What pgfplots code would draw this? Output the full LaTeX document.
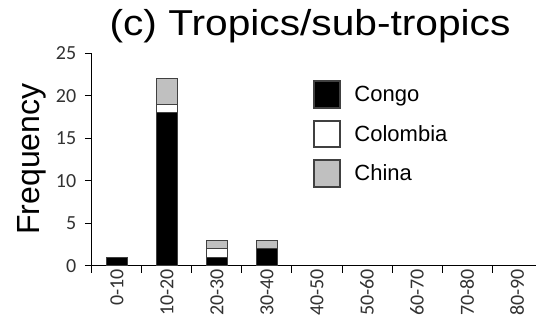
\documentclass[border=0pt]{standalone}
\usepackage{pgfplots}
\pgfplotsset{compat=1.18}
\usepackage{fontspec}
\setmainfont{Liberation Sans}
\newfontfamily\carlito{Carlito}
\usepackage{graphicx}
\definecolor{edgegray}{RGB}{64,64,64}
\definecolor{chinagray}{RGB}{192,192,192}
\definecolor{ticktext}{RGB}{50,50,50}
\begin{document}
\begin{tikzpicture}[x=1pt,y=1pt]
\useasboundingbox (-92,-69.3) rectangle (444,265.7);
\begin{axis}[
  at={(0,0)}, anchor=south west,
  scale only axis, width=444pt, height=212.4pt,
  xmin=0, xmax=8.88, ymin=0, ymax=25,
  axis x line=bottom, axis y line=left,
  axis line style={-, line width=1pt, black},
  ytick={0,5,...,25},
  xtick={0,1,...,8}, xticklabels={},
  extra x ticks={0.5,1.5,2.5,3.5,4.5,5.5,6.5,7.5,8.5},
  extra x tick labels={0-10,10-20,20-30,30-40,40-50,50-60,60-70,70-80,80-90},
  extra x tick style={major tick length=0pt},
  tick align=outside, major tick length=7pt,
  tick style={line width=1pt, black},
  /pgf/number format/assume math mode=true,
  ticklabel style={font=\carlito\fontsize{20}{20}\selectfont, text=ticktext},
  y tick label style={xshift=-5.3pt},
  x tick label style={rotate=90, anchor=east},
  ybar stacked, bar width=21pt,
  legend style={at={(0.497,0.874)}, anchor=north west, draw=none, fill=none,
    font=\fontsize{22}{22}\selectfont, row sep=11pt,
    inner sep=0pt, nodes={inner sep=0pt, anchor=west},
    /tikz/every odd column/.append style={column sep=13pt}},
  legend cell align=left,
  legend image code/.code={\draw[#1, line width=2pt] (0pt,-13.3pt) rectangle (26.6pt,13.3pt);},
]
\addplot[fill=black, draw=edgegray, line width=1.2pt] coordinates {(0.5,1) (1.5,18) (2.5,1) (3.5,2)};
\addplot[fill=white, draw=edgegray, line width=1.2pt] coordinates {(0.5,0) (1.5,1) (2.5,1) (3.5,0)};
\addplot[fill=chinagray, draw=edgegray, line width=1.2pt] coordinates {(0.5,0) (1.5,3) (2.5,1) (3.5,1)};
\legend{Congo, Colombia, China}
\end{axis}
\node[anchor=base] at (218,229.7) {\fontsize{36}{36}\selectfont\scalebox{1.13}[1]{(c) Tropics/sub-tropics}};
\node[rotate=90, anchor=base] at (-52,106.7) {\fontsize{32}{32}\selectfont Frequency};
\end{tikzpicture}
\end{document}
